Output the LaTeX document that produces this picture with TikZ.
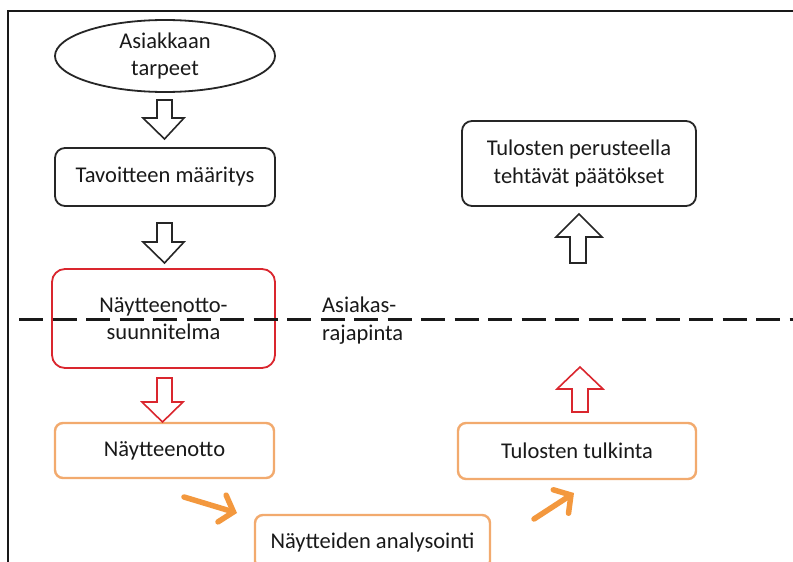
\documentclass[tikz,border=0pt]{standalone}
\usepackage{fontspec}
\setmainfont{Carlito}
\usetikzlibrary{shapes.geometric,arrows.meta}
\definecolor{myred}{RGB}{218,38,46}
\definecolor{boxorange}{RGB}{242,170,110}
\definecolor{arrorange}{RGB}{243,152,62}
\definecolor{txt}{RGB}{25,25,25}
\tikzset{
  lbl/.style={font=\fontsize{22.5}{27.5}\selectfont, text=txt, align=center, inner sep=0pt},
  blackbox/.style={lbl, draw=black!85, line width=1.8pt, rounded corners=10pt},
  redbox/.style={lbl, draw=myred, line width=1.8pt, rounded corners=13pt},
  orangebox/.style={lbl, draw=boxorange, line width=2.4pt, rounded corners=8pt},
  hollowblack/.style={draw=black!85, line width=1.6pt, fill=white, line join=miter},
  hollowred/.style={draw=myred, line width=1.6pt, fill=white, line join=miter},
  orangearrow/.style={draw=arrorange, line width=5.5pt, line cap=round, -{Straight Barb[length=12pt,width=28pt,line cap=round]}},
}
\begin{document}
\begin{tikzpicture}[x=1pt,y=-1pt]
\useasboundingbox (0,0) rectangle (793,562);
\clip (0,0) rectangle (793,562);
\fill[white] (0,0) rectangle (793,562);
% frame
\draw[line width=2pt, black!90] (7.5,570) -- (7.5,11) -- (800,11);

% nodes
\node[lbl, draw=black!85, line width=1.8pt, ellipse, minimum width=220pt, minimum height=72pt] (needs) at (165,56) {Asiakkaan\\tarpeet};
\node[blackbox, minimum width=220pt, minimum height=58pt] (goal) at (165,177) {Tavoitteen määritys};
\node[redbox, minimum width=223pt, minimum height=99pt] (plan) at (163.5,318.5) {Näytteenotto-\\suunnitelma};
\node[orangebox, minimum width=219pt, minimum height=55pt] (sampling) at (164.5,450.5) {Näytteenotto};
\node[orangebox, minimum width=235pt, minimum height=54pt] (analysis) at (372.5,542) {Näytteiden analysointi};
\node[orangebox, minimum width=238pt, minimum height=56pt] (interp) at (577,451) {Tulosten tulkinta};
\node[blackbox, minimum width=234pt, minimum height=85pt] (decide) at (579,163.5) {Tulosten perusteella\\tehtävät päätökset};
\node[lbl, align=left, anchor=west] (iface) at (322,320.5) {Asiakas-\\rajapinta};

% dashed interface line
\coordinate (dashL) at (19,319);
\coordinate (dashR) at (800,319);
\draw[line width=3pt, black!90, dash pattern=on 24pt off 9.5pt] (dashL) -- (dashR);

% hollow block arrows
\draw[hollowblack] (157,100) -- (172,100) -- (172,118) -- (184,118) -- (164.5,139) -- (143,118) -- (157,118) -- cycle;
\draw[hollowblack] (157,223) -- (172,223) -- (172,242) -- (184,242) -- (164.5,263) -- (143,242) -- (157,242) -- cycle;
\draw[hollowred] (157,378) -- (172,378) -- (172,402) -- (183,402) -- (162.5,422) -- (142,402) -- (157,402) -- cycle;
\draw[hollowred] (572,412) -- (588,412) -- (588,389) -- (603,389) -- (580,367) -- (557,389) -- (572,389) -- cycle;
\draw[hollowblack] (570,263) -- (586,263) -- (586,237) -- (602,237) -- (579,214) -- (556,237) -- (570,237) -- cycle;

% orange arrows
\coordinate (o1s) at (184,497);
\coordinate (o1e) at (237,513);
\coordinate (o2s) at (534,519);
\coordinate (o2e) at (574,493);
\draw[orangearrow] (o1s) -- (o1e);
\draw[orangearrow] (o2s) -- (o2e);
\end{tikzpicture}
\end{document}
